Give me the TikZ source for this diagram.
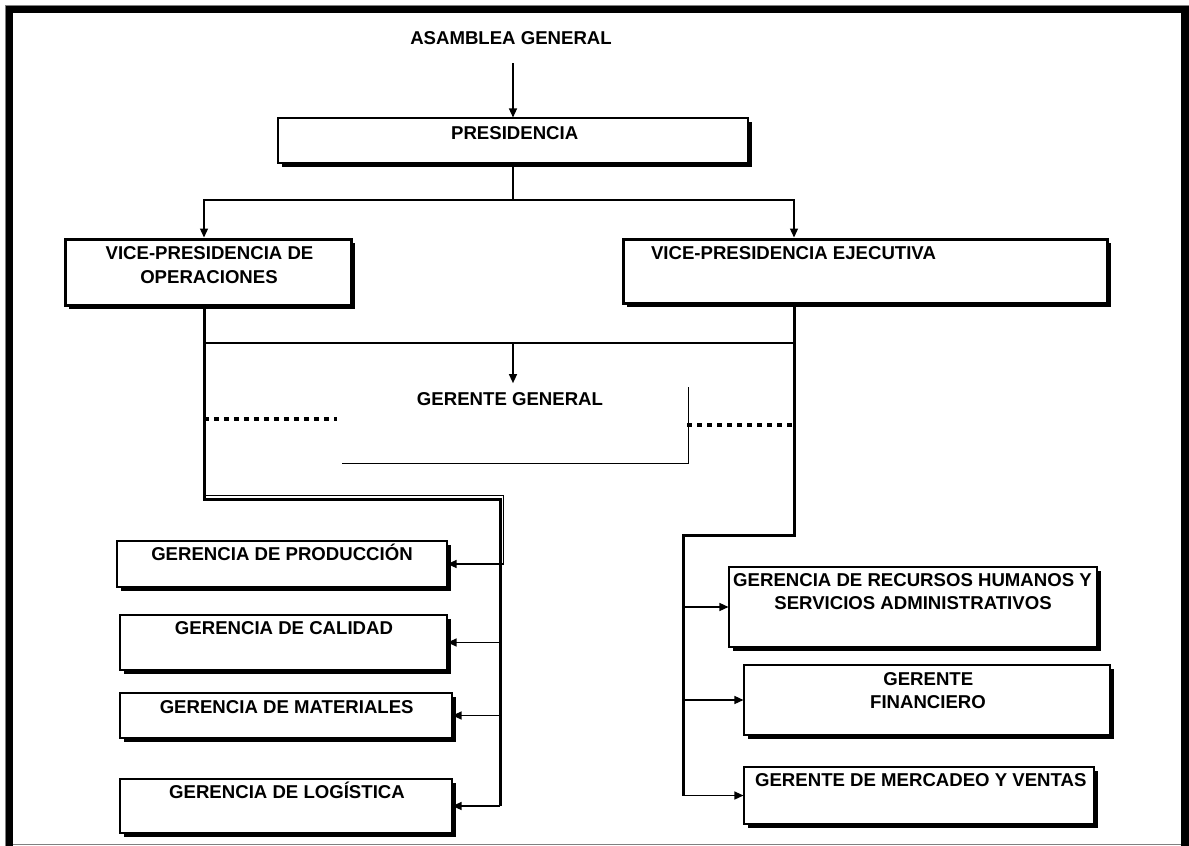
\documentclass[tikz,border=0pt]{standalone}
\usepackage{fontspec}
\setmainfont{Liberation Sans}
\usetikzlibrary{arrows.meta,shadows}

\begin{document}
\begin{tikzpicture}[x=1pt,y=-1pt,
  box/.style={draw,line width=1.1pt,fill=white,inner sep=0pt,
    drop shadow={shadow xshift=3.5pt,shadow yshift=-3.5pt,opacity=1,fill=black}},
  vpbox/.style={box,line width=3pt},
  lbl/.style={font=\bfseries\fontsize{18.6}{22}\selectfont,inner sep=0pt,
    text height=13.3pt,text depth=0pt},
  arr/.style={-{Triangle[length=9pt,width=8pt]},line width=1.3pt},
  link/.style={line width=1.3pt},
  spine/.style={line width=3pt},
  dots/.style={line width=4pt,dash pattern=on 4.5pt off 5.5pt}]

\useasboundingbox (0,0) rectangle (1189,846);

% page frame
\draw[gray,line width=0.8pt] (5.5,846) -- (5.5,5.5) -- (1188.6,5.5) -- (1188.6,846);
\draw[gray,line width=1pt] (5.5,844.8) -- (1188.6,844.8);
\draw[line width=7.5pt] (9.5,846) -- (9.5,9.5) -- (1185,9.5) -- (1185,846);

% boxes
\node[box,minimum width=470pt,minimum height=45pt] (pres) at (513,140.5) {};
\node[vpbox,minimum width=286pt,minimum height=66pt] (vpo) at (208,272) {};
\node[vpbox,minimum width=484pt,minimum height=64pt] (vpe) at (865,271) {};
\node[box,minimum width=330pt,minimum height=46pt] (prod) at (282,564) {};
\node[box,minimum width=327pt,minimum height=55pt] (cal) at (283.5,642.5) {};
\node[box,minimum width=332pt,minimum height=45pt] (mat) at (286,715.5) {};
\node[box,minimum width=332pt,minimum height=54pt] (log) at (286,806) {};
\node[box,minimum width=368pt,minimum height=80pt] (rrhh) at (913,607) {};
\node[box,minimum width=366pt,minimum height=70pt] (fin) at (927,700) {};
\node[box,minimum width=350pt,minimum height=57pt] (merc) at (919,795.5) {};

% labels
\node[lbl] (asam) at (511,37.5) {ASAMBLEA GENERAL};
\node[lbl] (presT) at (514.7,132.5) {PRESIDENCIA};
\node[lbl] (vpoT1) at (209.5,253) {VICE-PRESIDENCIA DE};
\node[lbl] (vpoT2) at (209,276.5) {OPERACIONES};
\node[lbl] (vpeT) at (793.5,253) {VICE-PRESIDENCIA EJECUTIVA};
\node[lbl] (gg) at (510,399) {GERENTE GENERAL};
\node[lbl] (prodT) at (282,554) {GERENCIA DE PRODUCCIÓN};
\node[lbl] (calT) at (284,628) {GERENCIA DE CALIDAD};
\node[lbl] (matT) at (286.7,706.5) {GERENCIA DE MATERIALES};
\node[lbl] (logT) at (287,792) {GERENCIA DE LOGÍSTICA};
\node[lbl] (rrhhT1) at (912.5,580) {GERENCIA DE RECURSOS HUMANOS Y};
\node[lbl] (rrhhT2) at (913,603) {SERVICIOS ADMINISTRATIVOS};
\node[lbl] (finT1) at (928.3,679.3) {GERENTE};
\node[lbl] (finT2) at (928,701.7) {FINANCIERO};
\node[lbl] (mercT) at (920.8,780) {GERENTE DE MERCADEO Y VENTAS};

% branch points
\coordinate (asamOut) at (513,63);
\coordinate (jTop) at (513,200);
\coordinate (xL) at (204,0);
\coordinate (xR) at (794,0);
\coordinate (mL) at (204,343);
\coordinate (mR) at (794,343);
\coordinate (mC) at (513,343);
\coordinate (lc1) at (204,499);
\coordinate (lc2) at (500,499);
\coordinate (lo1) at (204,495.5);
\coordinate (lo2) at (503.5,495.5);
\coordinate (rc1) at (794,535);
\coordinate (rc2) at (683.5,535);
\coordinate (dL1) at (204,419);
\coordinate (dL2) at (337,419);
\coordinate (dR1) at (687,425);
\coordinate (dR2) at (793,425);
\coordinate (bk1) at (342,463);
\coordinate (bk2) at (688,463);
\coordinate (bk3) at (688,387);

% top of the chart
\draw[arr] (asamOut) -- (pres.north);
\draw[link] (pres.south) -- (jTop);
\draw[arr] (jTop) -| (vpo.north -| xL);
\draw[arr] (jTop) -| (vpe.north -| xR);

% operations branch
\draw[spine] (vpo.south -| xL) -- (lc1) -- (lc2) -- (log.east -| lc2);
\draw[line width=1pt] (lo1) -- (lo2) -- (lo2 |- prod.east);
\draw[arr] (lo2 |- prod.east) -- (prod.east);
\draw[arr] (lc2 |- cal.east) -- (cal.east);
\draw[arr] (lc2 |- mat.east) -- (mat.east);
\draw[arr] (lc2 |- log.east) -- (log.east);

% executive branch
\draw[spine] (vpe.south -| xR) -- (rc1) -- (rc2) -- (rc2 |- merc.west);
\draw[arr] (rc2 |- rrhh.west) -- (rrhh.west);
\draw[arr] (rc2 |- fin.west) -- (fin.west);
\draw[arr] (rc2 |- merc.west) -- (merc.west);

% general manager
\draw[link] (mL) -- (mR);
\draw[arr] (mC) -- ([yshift=9pt]mC |- gg.north);
\draw[dots] (dL1) -- (dL2);
\draw[dots] (dR1) -- (dR2);
\draw[line width=1pt] (bk1) -- (bk2) -- (bk3);
\end{tikzpicture}
\end{document}
